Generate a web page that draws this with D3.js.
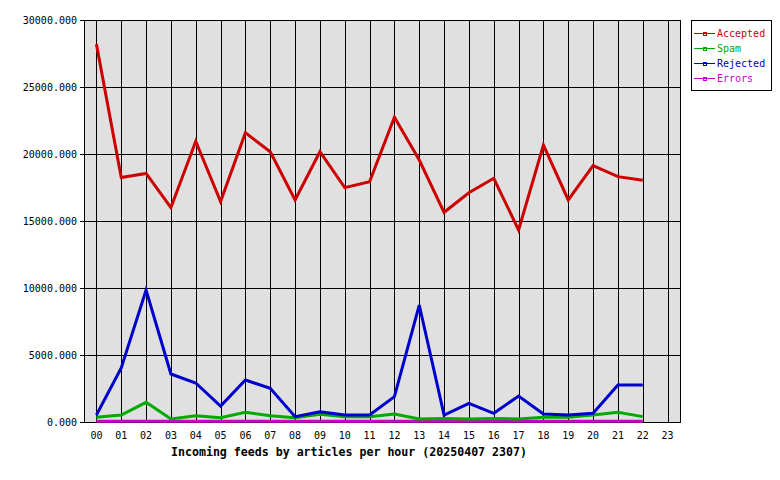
<!DOCTYPE html>
<html><head><meta charset="utf-8">
<script src="https://cdn.jsdelivr.net/npm/d3@7"></script>
<style>body{margin:0;background:#fff}svg{display:block}text{font-family:"DejaVu Sans Mono",monospace}</style>
</head><body>
<script>
const hours = ["00","01","02","03","04","05","06","07","08","09","10","11","12","13","14","15","16","17","18","19","20","21","22","23"];
const accepted = [28200,18250,18550,16000,20950,16450,21590,20170,16570,20170,17490,17930,22740,19550,15650,17110,18190,14330,20670,16570,19130,18310,18040];
const spam = [350,520,1470,220,470,320,720,470,320,570,400,400,600,220,270,220,270,220,350,350,520,720,400];
const rejected = [520,4030,9850,3580,2910,1190,3130,2510,400,770,520,520,1890,8730,520,1390,650,1940,600,520,650,2760,2760];
const errors = [50,50,50,50,50,50,50,50,50,50,50,50,50,50,50,50,50,50,50,50,50,50,50];
const yTicks = [0,5000,10000,15000,20000,25000,30000];
const seriesNames = ["Accepted","Spam","Rejected","Errors"];
const seriesColors = ["#cc0000","#00aa00","#0000cc","#cc00cc"];
const seriesData = [accepted, spam, rejected, errors];
const title = "Incoming feeds by articles per hour (20250407 2307)";

const W=780,H=480, L=84,R=680,T=20,B=422;
const svg=d3.select("body").append("svg").attr("width",W).attr("height",H);
const x=d3.scalePoint().domain(hours).range([L,R]).padding(0.5);
const y=d3.scaleLinear().domain([0,30000]).range([B,T]);

svg.append("rect").attr("x",L).attr("y",T).attr("width",R-L).attr("height",B-T).attr("fill","#e0e0e0");
const g=svg.append("g").attr("shape-rendering","crispEdges").attr("stroke","#000");
g.selectAll(".v").data(hours).join("line").attr("x1",d=>Math.round(x(d))+0.5).attr("x2",d=>Math.round(x(d))+0.5).attr("y1",T).attr("y2",B);
g.selectAll(".h").data(yTicks).join("line").attr("x1",L-4).attr("x2",R).attr("y1",d=>Math.round(y(d))+0.5).attr("y2",d=>Math.round(y(d))+0.5);
svg.append("rect").attr("x",L+0.5).attr("y",T+0.5).attr("width",R-L).attr("height",B-T).attr("fill","none").attr("stroke","#000").attr("shape-rendering","crispEdges");

svg.append("g").selectAll("text").data(yTicks).join("text")
  .attr("x",L-7).attr("y",d=>y(d)+4).attr("text-anchor","end").attr("font-size",10).text(d=>d3.format(".3f")(d));
svg.append("g").selectAll("text").data(hours).join("text")
  .attr("x",d=>x(d)).attr("y",439).attr("text-anchor","middle").attr("font-size",10).text(d=>d);
svg.append("text").attr("x",349).attr("y",456).attr("text-anchor","middle").attr("font-size",11.6).attr("font-weight","bold").text(title);

const line=d3.line().x((d,i)=>x(hours[i])).y(d=>y(d));
[3,1,2,0].forEach(k=>{
  svg.append("path").datum(seriesData[k]).attr("d",line).attr("fill","none")
    .attr("stroke",seriesColors[k]).attr("stroke-width",3).attr("stroke-linejoin","miter");
});

const lg=svg.append("g");
lg.append("rect").attr("x",691.5).attr("y",20.5).attr("width",80).attr("height",70).attr("fill","#fff").attr("stroke","#000").attr("shape-rendering","crispEdges");
seriesNames.forEach((n,i)=>{
  const yy=33+i*15;
  lg.append("line").attr("x1",694).attr("x2",715).attr("y1",yy+0.5).attr("y2",yy+0.5).attr("stroke",seriesColors[i]).attr("shape-rendering","crispEdges");
  lg.append("rect").attr("x",703).attr("y",yy-1).attr("width",3).attr("height",3).attr("fill","none").attr("stroke",seriesColors[i]).attr("stroke-width",1).attr("shape-rendering","crispEdges");
  lg.append("text").attr("x",717).attr("y",yy+4).attr("font-size",10).attr("fill",seriesColors[i]).text(n);
});
</script>
</body></html>
